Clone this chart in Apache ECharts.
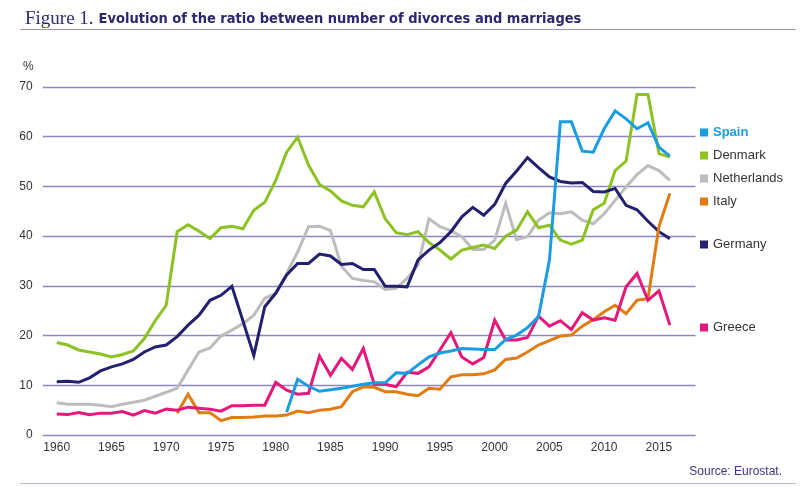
<!DOCTYPE html>
<html>
<head>
<meta charset="utf-8">
<script src="https://cdn.jsdelivr.net/npm/echarts@6/dist/echarts.min.js"></script>
<style>
html,body{margin:0;padding:0;background:#fff;}
#chart{width:800px;height:487px;}
</style>
</head>
<body>
<div id="chart"></div>
<script>
const years = [];
for (let y = 1960; y <= 2016; y++) years.push(y);

const yTicks = [0, 10, 20, 30, 40, 50, 60, 70];
const xTickLabels = [1960, 1965, 1970, 1975, 1980, 1985, 1990, 1995, 2000, 2005, 2010, 2015];

const denmark = [18.6,18.1,17.1,16.7,16.3,15.7,16.2,16.9,19.4,23.0,
  26.1,40.9,42.3,41.0,39.5,41.7,42.0,41.5,45.2,46.8,
  51.2,56.9,59.9,54.3,50.4,49.1,47.1,46.2,45.9,48.9,
  43.5,40.7,40.3,40.9,38.7,37.2,35.4,37.2,37.7,38.2,
  37.5,40.0,41.2,44.9,41.7,42.2,39.2,38.4,39.2,45.3,
  46.6,53.2,55.1,68.5,68.5,56.6,55.9];

const germany = [10.7,10.8,10.6,11.5,12.9,13.7,14.3,15.2,16.7,17.7,
  18.1,19.8,22.1,24.1,27.1,28.1,29.9,23.0,16.0,25.8,
  28.5,32.2,34.5,34.5,36.4,36.0,34.3,34.5,33.3,33.3,
  29.9,29.9,29.8,35.2,37.2,38.7,40.9,43.9,45.8,44.2,
  46.4,50.6,53.1,55.8,53.8,51.9,51.0,50.7,50.8,49.0,
  48.9,49.6,46.2,45.3,43.0,40.9,39.5];

const netherlands = [6.5,6.2,6.2,6.2,6.0,5.7,6.2,6.6,7.0,7.8,
  8.6,9.4,13.1,16.7,17.5,19.9,21.1,22.4,24.1,27.5,
  28.5,32.5,36.8,41.9,42.0,41.1,34.0,31.5,31.1,30.8,
  29.3,29.5,31.5,34.2,43.5,41.9,41.1,39.9,37.3,37.3,
  39.2,46.6,39.3,39.9,43.2,44.7,44.5,44.9,43.2,42.5,
  44.5,47.2,49.9,52.4,54.2,53.2,51.2];

const greece = [4.2,4.1,4.5,4.1,4.4,4.4,4.7,4.0,4.9,4.4,
  5.2,5.0,5.6,5.4,5.2,4.8,5.9,5.9,6.0,6.0,
  10.6,9.0,8.2,8.4,15.9,12.0,15.4,13.2,17.4,10.2,
  10.2,9.7,12.6,12.4,13.7,17.1,20.6,15.7,14.3,15.6,
  23.1,19.1,19.1,19.6,23.9,21.9,23.0,21.2,24.6,23.1,
  23.6,23.1,29.8,32.5,27.1,29.0,22.1];

const italy = [null,null,null,null,null,null,null,null,null,null,
  null,4.4,8.2,4.5,4.5,2.9,3.5,3.5,3.6,3.8,
  3.8,4.0,4.8,4.5,5.0,5.2,5.7,8.7,9.7,9.6,
  8.7,8.7,8.2,7.9,9.4,9.2,11.7,12.1,12.1,12.3,
  13.1,15.2,15.5,16.7,18.1,19.0,19.9,20.1,21.9,23.2,
  24.8,26.1,24.4,27.1,27.4,41.9,48.6];

const spain = [null,null,null,null,null,null,null,null,null,null,
  null,null,null,null,null,null,null,null,null,null,
  null,4.6,11.2,9.8,8.8,9.1,9.4,9.8,10.2,10.5,
  10.5,12.5,12.4,14.1,15.7,16.5,16.9,17.4,17.3,17.2,
  17.2,19.2,20.1,21.6,23.8,35.2,63.0,63.0,57.1,56.9,
  61.6,65.2,63.6,61.6,62.8,57.9,56.1];

const seriesNames = ['Spain','Denmark','Netherlands','Italy','Germany','Greece'];
const seriesColors = {
  Spain:'#1a9de0', Denmark:'#8cc221', Netherlands:'#bdbdbd',
  Italy:'#e27b12', Germany:'#23216f', Greece:'#e5177b'
};
const seriesData = {
  Spain: spain, Denmark: denmark, Netherlands: netherlands,
  Italy: italy, Germany: germany, Greece: greece
};
const legendTops = {Spain:121, Denmark:144, Netherlands:167, Italy:190, Germany:233, Greece:316};
const drawOrder = ['Netherlands','Denmark','Germany','Italy','Greece','Spain'];

const chart = echarts.init(document.getElementById('chart'), null, {renderer:'canvas'});

const series = drawOrder.map(name => ({
  name: name,
  type: 'line',
  data: years.map((y, i) => [y, seriesData[name][i]]),
  showSymbol: false,
  symbol: 'none',
  connectNulls: false,
  lineStyle: {color: seriesColors[name], width: 3, join: 'miter'},
  itemStyle: {color: seriesColors[name]},
  emphasis: {disabled: true},
  animation: false
}));

const legends = seriesNames.map(name => ({
  data: [name],
  left: 695,
  top: legendTops[name],
  icon: 'rect',
  itemWidth: 8,
  itemHeight: 8,
  itemGap: 5,
  selectedMode: false,
  textStyle: {
    fontFamily: 'Liberation Sans, Arial, sans-serif',
    fontSize: 13,
    color: name === 'Spain' ? seriesColors.Spain : '#333333',
    fontWeight: name === 'Spain' ? 'bold' : 'normal'
  }
}));

chart.setOption({
  backgroundColor: '#ffffff',
  animation: false,
  title: {
    left: 20,
    top: 5,
    text: '{a|Figure 1.} {b|Evolution of the ratio between number of divorces and marriages}',
    textStyle: {
      fontWeight: 'normal',
      rich: {
        a: {fontFamily: 'Liberation Serif, serif', fontSize: 19, fontWeight: 'normal', color: '#2e2a78'},
        b: {fontFamily: 'DejaVu Sans Condensed, DejaVu Sans, sans-serif', fontSize: 14.5, fontWeight: 'bold', color: '#2a2670'}
      }
    }
  },
  legend: legends,
  grid: {left: 42.7, right: 104.5, top: 87, bottom: 52, containLabel: false},
  xAxis: {
    type: 'value',
    min: 1958.72,
    max: 2018.34,
    splitNumber: 12,
    axisLine: {show: false},
    axisTick: {show: false},
    splitLine: {show: false},
    axisLabel: {
      margin: 7,
      fontFamily: 'Liberation Sans, Arial, sans-serif',
      fontSize: 12,
      color: '#333333',
      formatter: function (v) {
        const r = Math.round(v);
        return (Math.abs(v - r) < 1e-6 && xTickLabels.indexOf(r) >= 0) ? String(r) : '';
      }
    }
  },
  yAxis: {
    type: 'value',
    min: yTicks[0],
    max: yTicks[yTicks.length - 1],
    interval: 10,
    axisLine: {show: false},
    axisTick: {show: false},
    splitLine: {lineStyle: {color: '#8a87c4', width: 1.3}},
    axisLabel: {
      margin: 10,
      fontFamily: 'Liberation Sans, Arial, sans-serif',
      fontSize: 12,
      color: '#333333'
    }
  },
  graphic: [
    {type: 'line', shape: {x1: 20, y1: 29.5, x2: 796, y2: 29.5}, style: {stroke: '#9896c8', lineWidth: 1.2}},
    {type: 'text', left: 23, top: 61, style: {text: '%', font: '12px Liberation Sans, Arial, sans-serif', fill: '#333333'}},
    {type: 'text', right: 18, top: 466, style: {text: 'Source: Eurostat.', font: '12px Liberation Sans, Arial, sans-serif', fill: '#3c3592'}},
    {type: 'line', shape: {x1: 20, y1: 483.5, x2: 796, y2: 483.5}, style: {stroke: '#b9b7dc', lineWidth: 1}}
  ],
  series: series
});
</script>
</body>
</html>
